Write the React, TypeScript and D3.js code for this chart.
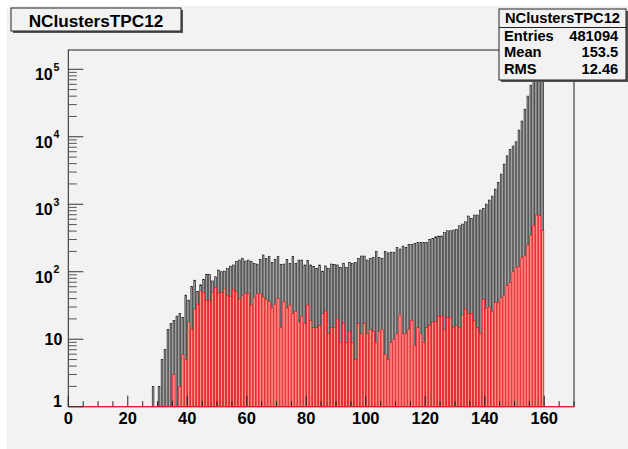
import React from "react";
import * as d3 from "d3";

const TITLE = "NClustersTPC12";
const STAT_LABELS = ["Entries", "Mean", "RMS"];
const STAT_VALUES = ["481094", "153.5", "12.46"];

const X_MIN = 0;
const X_MAX = 170;
const Y_MIN = 1;
const Y_MAX = Math.pow(10, 5.286);
const X_MAJOR_TICKS = [0, 20, 40, 60, 80, 100, 120, 140, 160];
const Y_DECADES = [1, 10, 100, 1000, 10000, 100000];

// black histogram: bins starting at 28 (bin width 1)
const BLACK_FIRST_BIN = 28;
const blackCounts = [
  2, 0, 2, 5, 7, 14, 17, 19, 22, 24, 21, 45, 38, 60, 75, 51, 64, 77, 91, 91,
  73, 84, 106, 100, 102, 112, 121, 126, 141, 149, 158, 144, 149, 141, 133, 130, 153, 177, 158, 167,
  138, 153, 167, 129, 130, 153, 133, 167, 133, 149, 149, 126, 146, 126, 119, 112, 126, 102, 122, 112,
  130, 129, 126, 116, 133, 116, 138, 133, 138, 158, 171, 171, 149, 158, 163, 200, 163, 158, 200, 191,
  195, 195, 230, 217, 240, 230, 255, 255, 264, 270, 270, 273, 270, 302, 313, 330, 338, 338, 379, 405,
  405, 415, 425, 480, 509, 550, 669, 618, 692, 692, 820, 869, 1007, 1154, 1322, 1679, 2110, 2800, 3940, 5230,
  6510, 7280, 8430, 12560, 17100, 25700, 40100, 58300, 72000, 95000, 110000, 76000,
];

// red histogram: bins starting at 35
const RED_FIRST_BIN = 35;
const redCounts = [
  3, 0, 2, 6, 5, 18, 14, 28, 33, 52, 49, 38, 38, 49, 58, 48, 49, 57, 45, 43,
  55, 51, 39, 44, 48, 47, 32, 42, 47, 48, 42, 39, 36, 29, 33, 40, 15, 36, 29, 32,
  24, 26, 18, 22, 17, 32, 19, 15, 15, 16, 24, 26, 12, 15, 15, 20, 9, 17, 9, 13,
  9, 5, 17, 12, 17, 12, 14, 13, 9, 13, 14, 6, 5, 9, 10, 12, 23, 12, 12, 14,
  19, 8, 15, 12, 9, 15, 16, 18, 18, 22, 22, 14, 21, 21, 15, 16, 15, 23, 28, 24,
  24, 19, 15, 12, 39, 29, 30, 26, 35, 35, 41, 44, 62, 69, 100, 116, 118, 163, 172, 249,
  350, 480, 692, 680, 405,
];

const W = 628;
const H = 449;
const PL = 68.3;
const PR = 574;
const PT = 50;
const PB = 406.7;
const FONT = "'Liberation Sans', Arial, Helvetica, sans-serif";
const BG = "#f2f2f2";

export default function App() {
  const x = d3.scaleLinear().domain([X_MIN, X_MAX]).range([PL, PR]);
  const y = d3.scaleLog().domain([Y_MIN, Y_MAX]).range([PB, PT]).clamp(true);
  const bw = x(1) - x(0);

  const blackBars = blackCounts.map((v, i) => ({ bin: BLACK_FIRST_BIN + i, v }));
  const redBars = redCounts.map((v, i) => ({ bin: RED_FIRST_BIN + i, v }));

  const xMinor = d3.range(X_MIN, X_MAX + 0.01, 5).filter((t) => t % 20 !== 0);
  const yMinor: number[] = [];
  for (let d = 0; d < 6; d++) {
    for (let k = 2; k <= 9; k++) {
      const v = k * Math.pow(10, d);
      if (v < Y_MAX) yMinor.push(v);
    }
  }

  return (
    <svg
      width={W}
      height={H}
      style={{ position: "absolute", left: 0, top: 0, background: "#ffffff" }}
      fontFamily={FONT}
    >
      <rect x={7} y={6} width={W - 7} height={H - 6} fill={BG} />
      <defs>
        <clipPath id="plotClip">
          <rect x={PL} y={PT} width={PR - PL} height={PB - PT} />
        </clipPath>
      </defs>

      {/* bars */}
      <g clipPath="url(#plotClip)">
        {blackBars
          .filter((d) => d.v > 1)
          .map((d) => (
            <rect
              key={"b" + d.bin}
              x={x(d.bin) + 0.6}
              y={y(d.v)}
              width={bw - 1.2}
              height={PB - y(d.v)}
              fill="#a0a0a0"
              stroke="#000000"
              strokeWidth={0.55}
            />
          ))}
        {redBars
          .filter((d) => d.v > 1)
          .map((d) => (
            <rect
              key={"r" + d.bin}
              x={x(d.bin) + 0.4}
              y={y(d.v)}
              width={bw - 0.8}
              height={PB - y(d.v)}
              fill="#ff9494"
              stroke="#ff0000"
              strokeWidth={0.6}
            />
          ))}
      </g>

      {/* frame */}
      <rect x={PL} y={PT} width={PR - PL} height={PB - PT} fill="none" stroke="#222" strokeWidth={1} />

      {/* x ticks */}
      {X_MAJOR_TICKS.map((t) => (
        <line key={"xM" + t} x1={x(t)} x2={x(t)} y1={PB} y2={PB - 11} stroke="#222" strokeWidth={1} />
      ))}
      {xMinor.map((t) => (
        <line key={"xm" + t} x1={x(t)} x2={x(t)} y1={PB} y2={PB - 5.5} stroke="#222" strokeWidth={1} />
      ))}
      <line x1={PL} x2={PR} y1={PB} y2={PB} stroke="#ff2020" strokeWidth={1} />
      {X_MAJOR_TICKS.map((t) => (
        <text
          key={"xl" + t}
          x={x(t)}
          y={423.5}
          textAnchor="middle"
          fontSize={16.5}
          fontWeight="bold"
          fill="#000"
        >
          {t}
        </text>
      ))}

      {/* y ticks */}
      {Y_DECADES.map((t) => (
        <line key={"yM" + t} x1={PL} x2={PL + 15} y1={y(t)} y2={y(t)} stroke="#333" strokeWidth={1} />
      ))}
      {yMinor.map((t) => (
        <line key={"ym" + t} x1={PL} x2={PL + 8.5} y1={y(t)} y2={y(t)} stroke="#555" strokeWidth={1} />
      ))}
      {Y_DECADES.map((t, i) => {
        const ty = y(t);
        if (i === 0) {
          return (
            <text key="yl1" x={62} y={ty} textAnchor="end" fontSize={16} fontWeight="bold" fill="#000">
              1
            </text>
          );
        }
        if (i === 1) {
          return (
            <text key="yl10" x={62.3} y={ty + 6} textAnchor="end" fontSize={16} fontWeight="bold" fill="#000">
              10
            </text>
          );
        }
        return (
          <g key={"yl" + t}>
            <text x={52.7} y={ty + 11} textAnchor="end" fontSize={16} fontWeight="bold" fill="#000">
              10
            </text>
            <text x={53.6} y={ty + 1.5} textAnchor="start" fontSize={10.5} fontWeight="bold" fill="#000">
              {i}
            </text>
          </g>
        );
      })}

      {/* title box */}
      <rect x={13} y={10} width={170} height={23} fill="#555" />
      <rect x={11} y={8} width={170} height={23} fill={BG} stroke="#222" strokeWidth={1} />
      <text x={96} y={26.7} textAnchor="middle" fontSize={17.2} fontWeight="bold" fill="#000">
        {TITLE}
      </text>

      {/* stats box */}
      <rect x={501} y={11} width={127} height={71} fill="#555" />
      <rect x={499} y={9} width={127} height={71} fill={BG} stroke="#222" strokeWidth={1} />
      <line x1={499} x2={626} y1={27.5} y2={27.5} stroke="#222" strokeWidth={1} />
      <text x={562.5} y={22.7} textAnchor="middle" fontSize={14.7} fontWeight="bold" fill="#000">
        {TITLE}
      </text>
      {STAT_LABELS.map((lab, i) => (
        <g key={lab}>
          <text x={504} y={40.5 + i * 16.5} fontSize={14.7} fontWeight="bold" fill="#000">
            {lab}
          </text>
          <text x={618.3} y={40.5 + i * 16.5} textAnchor="end" fontSize={14.7} fontWeight="bold" fill="#000">
            {STAT_VALUES[i]}
          </text>
        </g>
      ))}
    </svg>
  );
}
